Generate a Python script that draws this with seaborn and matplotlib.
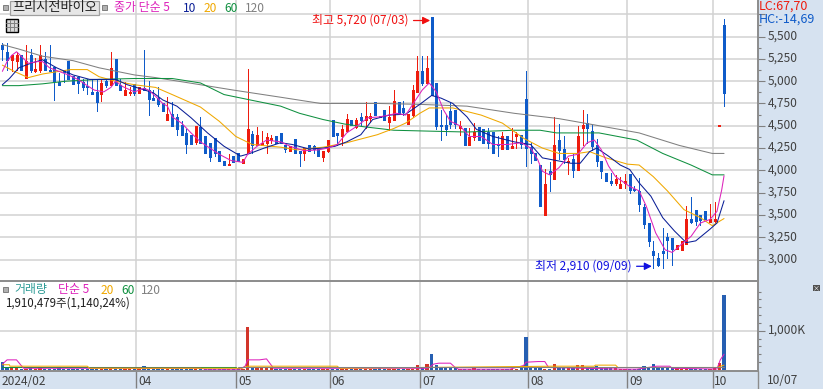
import matplotlib
matplotlib.use('Agg')
import matplotlib.pyplot as plt
import seaborn as sns
import pandas as pd
from matplotlib.patches import Rectangle
from matplotlib.lines import Line2D
from matplotlib.ticker import FuncFormatter
from matplotlib.transforms import ScaledTranslation

# daily candles
opens = [5410,5330,5240,5230,5290,5040,5290,5110,5130,5250,
         5130,5160,4990,5120,5230,5060,5050,4990,4950,4880,
         4880,4860,5000,4960,5250,4960,4850,4870,4970,4870,
         4920,4900,4810,4810,4750,4560,4630,4600,4510,4420,
         4400,4320,4490,4390,4310,4360,4220,4110,4060,4160,
         4190,4080,4190,4410,4280,4280,4310,4340,4390,4420,
         4290,4220,4350,4210,4190,4290,4270,4240,4150,4220,
         4570,4410,4390,4440,4570,4490,4600,4560,4590,4770,
         4610,4680,4540,4570,4770,4700,4520,4620,4880,5110,
         4980,5720,4980,4510,4510,4670,4680,4480,4470,4290,
         4370,4490,4460,4430,4430,4300,4240,4390,4250,4390,
         4400,4800,4260,4190,4060,3500,3990,3900,4340,4240,
         4090,4130,4000,4470,4530,4440,4280,4100,3970,3880,
         3860,3800,3860,3960,3790,3770,3590,3410,3100,3020,
         3100,3250,3240,3120,3110,3170,3460,3560,3500,3540,
         3420,3430,4500,5630]
highs = [5430,5430,5290,5330,5290,5410,5360,5260,5410,5330,
         5400,5160,5090,5130,5230,5060,5050,5030,5020,5020,
         5020,5020,5030,5330,5250,5020,4990,4930,4970,4930,
         5350,5000,4900,4930,4750,4820,4770,4630,4550,4460,
         4400,4500,4600,4390,4310,4360,4220,4110,4180,4160,
         4190,4130,5140,4440,4490,4440,4420,4400,4390,4420,
         4290,4270,4350,4210,4250,4290,4280,4240,4220,4340,
         4570,4420,4510,4630,4570,4590,4640,4770,4640,4770,
         4610,4680,4720,4900,4770,4780,4630,4960,5280,5280,
         5280,5720,4980,4680,4620,4750,4680,4550,4470,4470,
         4530,4490,4460,4470,4430,4390,4430,4390,4470,4430,
         4400,5110,4320,4190,4060,4020,4090,4600,4520,4390,
         4140,4180,4500,4680,4630,4510,4350,4100,3970,3970,
         3950,3930,3960,3960,3820,3920,3620,3410,3210,3070,
         3350,3300,3240,3160,3210,3600,3700,3560,3500,3540,
         3620,3640,4500,5700]
lows = [5240,5130,5110,5130,5120,5040,5100,5100,5100,5120,
        5110,4790,4960,4990,5030,4970,4870,4900,4860,4860,
        4670,4780,4930,4960,4960,4900,4850,4850,4840,4870,
        4900,4620,4790,4720,4670,4560,4500,4400,4400,4200,
        4300,4300,4310,4200,4100,4160,4100,4060,4060,4090,
        4100,4080,4190,4190,4280,4280,4200,4310,4310,4310,
        4210,4220,4200,4050,4120,4220,4200,4160,4100,4210,
        4380,4290,4290,4430,4510,4470,4510,4470,4540,4620,
        4600,4570,4450,4570,4640,4620,4520,4600,4880,4960,
        4980,4840,4460,4340,4400,4480,4470,4400,4290,4290,
        4340,4340,4310,4250,4200,4160,4240,4240,4250,4250,
        4250,4050,4080,4120,3600,3500,3770,3900,4130,4080,
        3960,3930,4000,4290,4310,4230,4050,3920,3880,3840,
        3840,3800,3800,3750,3770,3540,3350,3150,2910,2930,
        2910,3020,2940,3120,3110,3170,3410,3390,3390,3450,
        3420,3420,4500,4720]
closes = [5360,5240,5290,5290,5120,5230,5120,5140,5290,5120,
          5110,5000,4960,5100,5030,4970,4980,4930,4930,4860,
          4770,4980,4960,5150,4960,4900,4900,4880,4870,4930,
          4900,4800,4790,4740,4670,4630,4500,4460,4400,4300,
          4300,4500,4310,4200,4150,4200,4100,4060,4070,4090,
          4100,4130,4460,4280,4400,4310,4370,4360,4310,4310,
          4240,4270,4200,4200,4250,4220,4240,4160,4220,4340,
          4380,4400,4460,4580,4510,4570,4570,4610,4610,4620,
          4600,4570,4600,4780,4640,4660,4630,4900,5110,4980,
          5150,4840,4500,4500,4460,4520,4520,4500,4290,4370,
          4430,4340,4310,4310,4200,4280,4390,4240,4270,4400,
          4300,4250,4200,4120,3600,3850,3960,4280,4230,4130,
          4110,4000,4390,4510,4480,4270,4100,3990,3880,3860,
          3900,3850,3880,3780,3780,3620,3400,3210,3050,2940,
          3070,3220,3120,3160,3210,3460,3420,3430,3440,3450,
          3450,3460,4500,4870]

# moving averages, read at the turning points (bar position, price)
ma5_idx = [0,1,2,3,4,5.5,7.5,8.5,10,12,14,16,18,19.5,21.5,23,24,25.5,28,30,31,32.5,34,35,36,38,40,42,44,46,48.5,51,52,54,56,59,
           61,64,67,69,71,73,75,77.5,80,82,83.5,85.5,87,89,90.5,92,93.5,95,97,99,101.5,104,107,110,112,113.5,114.5,116,
           118,120,122,124,125.5,127,128.5,130,133,135,136.5,138.5,140.5,142,143.5,146,148,150,151.5,152.5,153]
ma5_val = [5110,5220,5290,5330,5280,5200,5220,5220,5150,5110,5070,5020,4950,4900,4880,4930,5000,4940,4880,4920,4900,4830,4750,4720,4600,4530,4420,4320,4250,4180,4110,4090,4180,4270,4340,4320,
           4270,4220,4230,4250,4290,4420,4490,4590,4600,4620,4640,4620,4740,4900,4980,4880,4680,4550,4500,4380,4380,4290,4290,4310,4250,4120,3990,3950,
           4030,4160,4180,4310,4340,4230,4050,3930,3820,3770,3600,3300,3110,3080,3150,3260,3410,3450,3540,3780,3940]
ma10_idx = [0,1.5,3.5,6,8.5,11.5,15,18.5,21.5,24,26.5,29,32,34,37,40,43.5,47,50.5,52.5,55.5,59,
            61.5,65,68,70.5,73,76,78.5,82,85.5,88.5,91,93,95.5,98.5,100.5,104,108.5,112,114.5,117.5,
            120.5,122.5,124.5,126,128.5,131,133,135,137.5,140,142.5,145,147,150,151.5,153]
ma10_val = [4960,5030,5150,5200,5240,5150,5070,5020,5020,5020,4960,4920,4870,4790,4720,4590,4420,4270,4160,4190,4250,4310,
            4290,4240,4250,4270,4320,4400,4570,4620,4630,4740,4840,4810,4750,4600,4460,4380,4320,4290,4140,4110,
            4080,4080,4210,4250,4160,4060,4010,3860,3710,3470,3320,3190,3210,3340,3410,3660]
ma20_idx = [0,2.5,5.5,8.5,12,14.5,18,20.5,24,28,32.5,36,42,46,49.5,53,59,62.5,68,73,79.5,83,85.5,88.5,90.5,95.5,101.5,106,110.5,114.5,118,
            122,124.5,128,132.5,135,138,141,144.5,148,150.5,153]
ma20_val = [5180,5110,5040,5080,5110,5130,5130,5050,5000,4960,4930,4850,4710,4550,4380,4290,4260,4230,4260,4310,4400,4470,4530,4640,4700,4700,4620,4530,4360,4250,4190,
            4190,4210,4140,4070,4060,3930,3770,3560,3470,3380,3460]
ma60_idx = [0,3.5,8.5,13.5,20.5,28,36,42,47,52.5,59,63,68,72.5,76.5,83,90.5,98.5,108.5,114,117.5,126.5,134.5,140,146,150.5,153]
ma60_val = [4950,4950,4970,5000,5020,5030,5030,4980,4850,4790,4720,4640,4570,4520,4490,4450,4440,4430,4450,4450,4420,4420,4340,4190,4060,3950,3950]
ma120_idx = [0,3.5,8.5,15,20.5,28,32.5,42,49,59,67.5,80,88.5,98.5,108.5,118,125.5,135,143.5,150.5,153]
ma120_val = [5410,5360,5280,5230,5150,5070,5040,4960,4900,4820,4750,4750,4740,4720,4640,4580,4510,4420,4280,4190,4190]

# volume in thousands of shares
volumes = [200,60,40,40,30,30,40,30,40,30,
           30,30,40,30,30,30,30,30,30,30,
           30,30,30,40,30,30,30,30,30,30,
           100,30,30,20,30,30,30,30,30,30,
           20,30,20,20,30,20,20,20,30,30,
           40,30,1090,60,60,40,60,40,30,30,
           30,30,30,20,30,30,20,20,30,30,
           30,30,30,30,30,30,30,30,30,30,
           40,30,30,30,30,30,30,30,125,40,
           150,410,125,50,50,40,40,30,30,30,
           40,30,30,30,30,30,30,30,30,30,
           40,840,50,40,40,30,30,150,40,40,
           40,40,125,125,40,40,100,40,40,40,
           40,30,30,30,30,30,100,40,150,60,
           60,40,40,40,30,30,30,30,30,30,
           30,50,180,1910]
vma5_idx = [0,1,3,4,4.5,42,43,50.5,51.5,52,54.5,56,57,57.5,90,90.5,91.4,92.5,95,96,96.7,107.6,110.5,111,113.6,115,115.8,131.7,134.5,138.7,141.5,142,151.5,152.2,153]
vma5_val = [145,255,255,110,40,40,17,17,100,255,255,280,120,40,40,60,145,170,170,60,17,17,110,195,212,212,60,17,17,93,93,40,20,255,400]
vma20_idx = [0,1.5,1.6,18,18.5,50.5,51,52,71,71.5,117,125.5,125.7,130,130.5,151.5,153]
vma20_val = [130,130,93,93,40,40,50,93,93,40,93,93,120,120,60,60,120]
vma60_idx = [0,49.5]
vma60_val = [60,60]
vma120_idx = [50,153]
vma120_val = [60,60]

price_ticks = [3000,3250,3500,3750,4000,4250,4500,4750,5000,5250,5500,5750]
price_minor = [3125,3375,3625,3875,4125,4375,4625,4875,5125,5375,5625]
vol_minor = [200,400,600,800,1200,1400,1600,1800,2000]
month_pos = [28.4,49.6,69.5,88.6,111.5,132.5,150.6]
month_labels = ['04','05','06','07','08','09','10']

RED = '#EE1C0E'
BLUE = '#0F5BC9'
MAGENTA = '#DD22BB'
NAVY = '#0A1E96'
ORANGE = '#F0A800'
GREEN = '#109040'
GRAY = '#808080'
GRID = '#D2D2D2'
STRIP = '#D6E2F0'
TEXT = '#404040'

sns.set_theme(style='white')
plt.rcParams['font.family'] = ['Noto Sans CJK KR', 'DejaVu Sans']

W, H = 823, 389
fig = plt.figure(figsize=(W / 100, H / 100), dpi=100, facecolor=STRIP)


def fx(x):
    return x / W


def fy(y):
    return 1 - y / H


ax = fig.add_axes([0, fy(281), fx(758), 281 / H])
ax_v = fig.add_axes([0, fy(371), fx(758), 89 / H], sharex=ax)

xs = list(range(len(opens)))
candles = pd.DataFrame({'bar': xs, 'open': opens, 'high': highs, 'low': lows,
                        'close': closes, 'volume': volumes})
candles['up'] = candles['close'] >= candles['open']
candles['color'] = candles['up'].map({True: RED, False: BLUE})
candles['top'] = candles[['open', 'close']].max(axis=1)
candles['bottom'] = candles[['open', 'close']].min(axis=1)
# a doji still shows as a one pixel dash
candles['top'] = candles[['top']].join(candles['bottom'].add(14)).max(axis=1)

wicks = ax.vlines(candles['bar'], candles['low'], candles['high'], colors=candles['color'],
                  linewidth=0.72, zorder=3, antialiased=False)
bodies = ax.vlines(candles['bar'], candles['bottom'], candles['top'], colors=candles['color'],
                   linewidth=2.16, zorder=3, antialiased=False, capstyle='butt')
wicks.set_snap(True)
bodies.set_snap(True)

for idx, val, col in [(ma120_idx, ma120_val, GRAY), (ma60_idx, ma60_val, GREEN),
                      (ma20_idx, ma20_val, ORANGE), (ma10_idx, ma10_val, NAVY),
                      (ma5_idx, ma5_val, MAGENTA)]:
    sns.lineplot(x=idx, y=val, ax=ax, color=col, linewidth=0.75, estimator=None,
                 sort=False, zorder=4)

sns.barplot(data=candles, x='bar', y='volume', hue='up', palette={True: RED, False: BLUE},
            native_scale=True, dodge=False, width=0.7, legend=False, ax=ax_v,
            linewidth=0, zorder=3)
for idx, val, col in [(vma60_idx, vma60_val, GREEN), (vma5_idx, vma5_val, MAGENTA),
                      (vma20_idx, vma20_val, ORANGE), (vma120_idx, vma120_val, GRAY)]:
    sns.lineplot(x=idx, y=val, ax=ax_v, color=col, linewidth=0.75, estimator=None,
                 sort=False, zorder=4)

ax.set_xlim(-0.5, 160.2)
ax.set_ylim(2760, 5910)
ax_v.set_ylim(-30, 2247)
ax.set_xlabel('')
ax.set_ylabel('')
ax_v.set_xlabel('')
ax_v.set_ylabel('')

# grids and frames
for a in (ax, ax_v):
    a.set_axisbelow(True)
    a.xaxis.grid(True, color=GRID, linewidth=1.1)
    a.yaxis.grid(True, color=GRID, linewidth=1.1)
    for side in ('left', 'top'):
        a.spines[side].set_visible(False)
    for side in ('right', 'bottom'):
        a.spines[side].set_color('#8C8C8C')
        a.spines[side].set_linewidth(1.4)
    a.yaxis.tick_right()

ax.set_yticks(price_ticks)
ax.set_yticks(price_minor, minor=True)
ax.yaxis.set_major_formatter(FuncFormatter(lambda v, p: '' if v > 5500 else f'{int(v):,}'))
ax.tick_params(axis='y', which='major', right=True, length=5, width=0.8, color=GRAY,
               labelsize=8.6, labelcolor=TEXT, pad=2)
ax.tick_params(axis='y', which='minor', right=True, length=2.5, width=0.8, color=GRAY)

ax_v.set_yticks([1000])
ax_v.set_yticks(vol_minor, minor=True)
ax_v.set_yticklabels(['1,000K'])
ax_v.tick_params(axis='y', which='major', right=True, length=5, width=0.8, color=GRAY,
                 labelsize=8.6, labelcolor=TEXT, pad=2)
ax_v.tick_params(axis='y', which='minor', right=True, length=2.5, width=0.8, color=GRAY)

# tick labels sit slightly above their ticks
for a in (ax, ax_v):
    for t in a.yaxis.get_major_ticks():
        t.label2.set_transform(t.label2.get_transform() + ScaledTranslation(0, 2 / 100, fig.dpi_scale_trans))

ax.set_xticks(month_pos)
ax.tick_params(axis='x', bottom=False, labelbottom=False)
ax_v.tick_params(axis='x', bottom=True, length=12.5, width=1, color=GRAY, labelbottom=False)

# month labels in the date strip
for pos, lbl in zip([-0.5] + month_pos, ['2024/02'] + month_labels):
    ax_v.annotate(lbl, (pos, 0), xycoords=ax_v.get_xaxis_transform(), xytext=(1.2, -2.6),
                  textcoords='offset points', va='top', ha='left', fontsize=8.6, color=TEXT,
                  annotation_clip=False)
fig.text(fx(767), fy(380), '10/07', fontsize=8.6, color=TEXT, va='center', ha='left')
fig.add_artist(Line2D([fx(758), fx(758)], [fy(371), 0], color='#8C8C8C', linewidth=1))

# high / low callouts
ax.annotate('최고 5,720 (07/03)', (91, 5680), xytext=(-16.5, 0), textcoords='offset points',
            ha='right', va='center', fontsize=8.6, color='#F01010')
ax.annotate('', (90.7, 5680), xytext=(-12, 0), textcoords='offset points',
            arrowprops=dict(arrowstyle='-|>', color='#F01010', lw=0.9, shrinkA=0, shrinkB=0,
                            mutation_scale=11))
ax.annotate('최저 2,910 (09/09)', (138, 2925), xytext=(-15.5, 0), textcoords='offset points',
            ha='right', va='center', fontsize=8.6, color='#1010E0')
ax.annotate('', (137.7, 2925), xytext=(-11, 0), textcoords='offset points',
            arrowprops=dict(arrowstyle='-|>', color='#1010E0', lw=0.9, shrinkA=0, shrinkB=0,
                            mutation_scale=11))

# header of the price panel
fig.add_artist(Rectangle((fx(10), fy(15)), fx(89), 14 / H, facecolor='#E6E6E6',
                         edgecolor='#A0A0A0', linewidth=0.9, zorder=5))
fig.text(fx(55), fy(8), '프리시전바이오', fontsize=9.5, color='#202020', ha='center',
         va='center', zorder=6)
for sx, sy in [(3, 5), (102, 5), (3, 287)]:
    fig.add_artist(Rectangle((fx(sx), fy(sy + 5)), fx(5), 5 / H, facecolor='#B0B0B0',
                             edgecolor='#707070', linewidth=0.6, zorder=5))
# table icon
fig.add_artist(Rectangle((fx(5.5), fy(32)), fx(12.5), 13 / H, facecolor='#D8D8D8',
                         edgecolor='black', linewidth=1, zorder=5))
for gx in (9.5, 13.5):
    fig.add_artist(Line2D([fx(gx), fx(gx)], [fy(31), fy(20)], color='#808080', linewidth=0.7, zorder=6))
for gy in (23, 27):
    fig.add_artist(Line2D([fx(6), fx(17.5)], [fy(gy), fy(gy)], color='#808080', linewidth=0.7, zorder=6))

header = [(114, '종가 단순 5', MAGENTA), (183, '10', NAVY), (204, '20', ORANGE),
          (224, '60', GREEN), (245, '120', GRAY)]
for hx, label, col in header:
    fig.text(fx(hx), fy(8), label, fontsize=8.6, color=col, va='center', ha='left')

vol_header = [(14, '거래량', '#2E9C96'), (58, '단순 5', MAGENTA), (101, '20', ORANGE),
              (121, '60', GREEN), (141, '120', GRAY)]
for hx, label, col in vol_header:
    fig.text(fx(hx), fy(290), label, fontsize=8.6, color=col, va='center', ha='left')
fig.text(fx(5), fy(303), '1,910,479주(1,140,24%)', fontsize=8.3, color='#202020',
         va='center', ha='left')

fig.text(fx(759), fy(6), 'LC:67,70', fontsize=9, color=RED, va='center', ha='left')
fig.text(fx(759), fy(19), 'HC:-14,69', fontsize=9, color=BLUE, va='center', ha='left')
fig.add_artist(Rectangle((fx(813), fy(291)), fx(7), 6 / H, facecolor='#505050', edgecolor='none'))
fig.text(fx(816.5), fy(288), '×', fontsize=5, color='white', ha='center', va='center', zorder=6)

fig.savefig('out.png', dpi=100, facecolor=fig.get_facecolor())
